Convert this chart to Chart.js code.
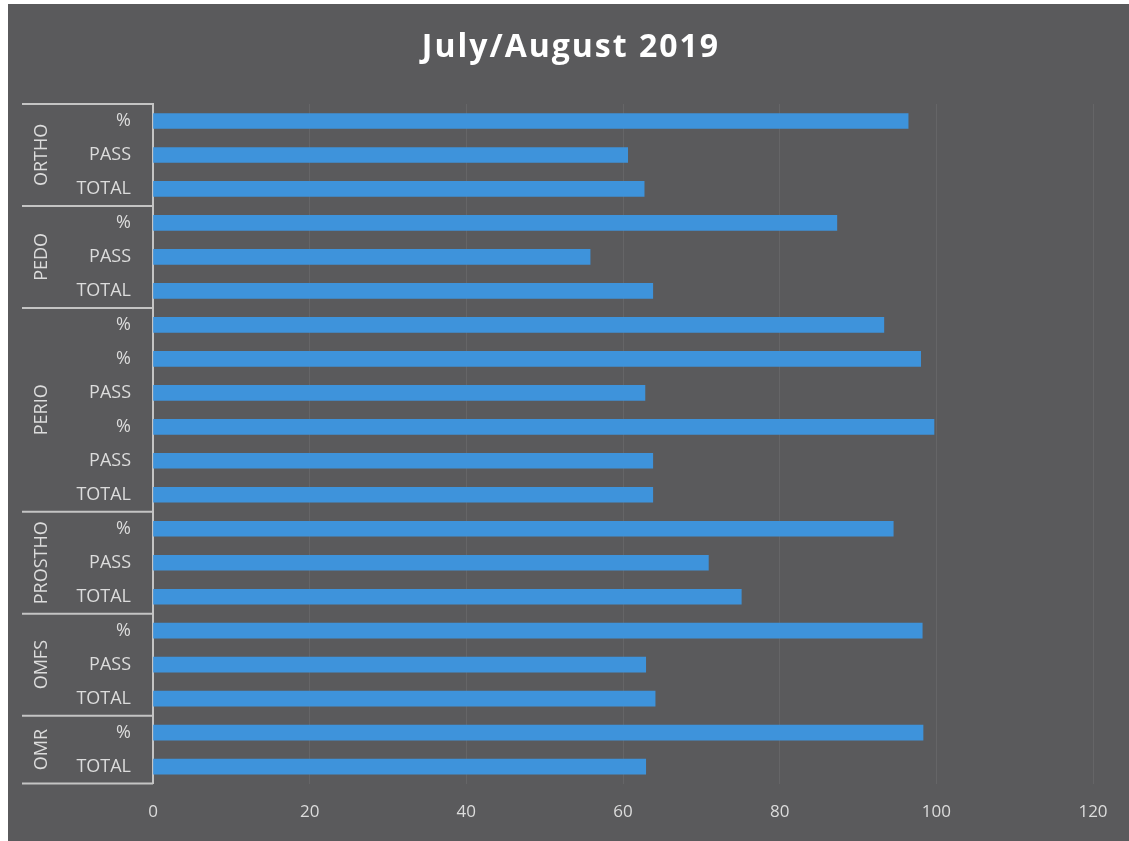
<!DOCTYPE html>
<html>
<head>
<meta charset="utf-8">
<title>July/August 2019</title>
<script src="https://cdn.jsdelivr.net/npm/chart.js@4.4.0/dist/chart.umd.min.js"></script>
<style>
    html, body { margin: 0; padding: 0; background: #ffffff; }
    #wrap { width: 1129px; height: 841px; }
</style>
</head>
<body>
<div id="wrap"><canvas id="chart"></canvas></div>
<script>
// sub-category labels, top to bottom
const labels = ['%', 'PASS', 'TOTAL', '%', 'PASS', 'TOTAL', '%', '%', 'PASS', '%',
    'PASS', 'TOTAL', '%', 'PASS', 'TOTAL', '%', 'PASS', 'TOTAL', '%', 'TOTAL'];
const values = [96.4, 60.6, 62.7, 87.3, 55.8, 63.8, 93.3, 98.0, 62.8, 99.7,
    63.8, 63.8, 94.5, 70.9, 75.1, 98.2, 62.9, 64.1, 98.3, 62.9];
// department groups and how many rows each one has
const groups = ['ORTHO', 'PEDO', 'PERIO', 'PROSTHO', 'OMFS', 'OMR'];
const groupSizes = [3, 3, 6, 3, 3, 2];
const xTicks = [0, 20, 40, 60, 80, 100, 120];
const title = 'July/August 2019';

const FONT = '"Open Sans", "Noto Sans", sans-serif';
const TEXT = '#dcdcdc';
const LINE = '#c4c4c4';
const LEFT_EDGE = 22;

const background = {
    id: 'background',
    beforeDraw(chart) {
        const ctx = chart.ctx;
        ctx.save();
        ctx.fillStyle = '#ffffff';
        ctx.fillRect(0, 0, chart.width, chart.height);
        ctx.fillStyle = '#5a5a5c';
        ctx.fillRect(8, 4, chart.width - 8, chart.height - 4);
        ctx.restore();
    }
};

// title drawn by hand so it can get the wide letter spacing of the original
const spacedTitle = {
    id: 'spacedTitle',
    afterDraw(chart) {
        const ctx = chart.ctx;
        ctx.save();
        ctx.fillStyle = '#ffffff';
        ctx.font = 'bold 32px ' + FONT;
        ctx.letterSpacing = '2px';
        ctx.textAlign = 'center';
        ctx.textBaseline = 'middle';
        ctx.fillText(title, 571, 48);
        ctx.restore();
    }
};

// draws the second level of the y axis: group names and separators
const groupAxis = {
    id: 'groupAxis',
    afterDraw(chart) {
        const ctx = chart.ctx;
        const y = chart.scales.y;
        const right = chart.chartArea.left;
        const half = (y.getPixelForValue(1) - y.getPixelForValue(0)) / 2;
        ctx.save();
        ctx.strokeStyle = LINE;
        ctx.lineWidth = 2;
        let start = 0;
        const bounds = [y.getPixelForValue(0) - half];
        groupSizes.forEach(n => {
            bounds.push(y.getPixelForValue(start + n - 1) + half);
            start += n;
        });
        bounds.forEach(b => {
            ctx.beginPath();
            ctx.moveTo(LEFT_EDGE, b);
            ctx.lineTo(right, b);
            ctx.stroke();
        });
        ctx.fillStyle = TEXT;
        ctx.font = '18px ' + FONT;
        ctx.textAlign = 'center';
        ctx.textBaseline = 'middle';
        groups.forEach((g, i) => {
            const mid = (bounds[i] + bounds[i + 1]) / 2;
            ctx.save();
            ctx.translate(42, mid);
            ctx.rotate(-Math.PI / 2);
            ctx.fillText(g, 0, 0);
            ctx.restore();
        });
        ctx.restore();
    }
};

new Chart(document.getElementById('chart').getContext('2d'), {
    type: 'bar',
    data: {
        labels: labels,
        datasets: [{
            data: values,
            backgroundColor: '#3e93db',
            barThickness: 15
        }]
    },
    options: {
        indexAxis: 'y',
        responsive: true,
        maintainAspectRatio: false,
        animation: false,
        layout: {
            padding: { left: LEFT_EDGE, right: 36, top: 104, bottom: 1 }
        },
        plugins: {
            legend: { display: false },
            tooltip: { enabled: false },
            title: { display: false }
        },
        scales: {
            x: {
                min: 0,
                max: 120,
                afterBuildTicks(scale) {
                    scale.ticks = xTicks.map(v => ({ value: v }));
                },
                grid: { color: 'rgba(255,255,255,0.07)', drawTicks: false },
                border: { display: false },
                ticks: {
                    color: TEXT,
                    padding: 18,
                    font: { family: FONT, size: 17 }
                }
            },
            y: {
                afterFit(scale) { scale.width = 131; },
                grid: { display: false },
                border: { display: true, color: LINE, width: 2 },
                ticks: {
                    color: TEXT,
                    padding: 14,
                    autoSkip: false,
                    font: { family: FONT, size: 18 }
                }
            }
        }
    },
    plugins: [background, spacedTitle, groupAxis]
});
</script>
</body>
</html>
